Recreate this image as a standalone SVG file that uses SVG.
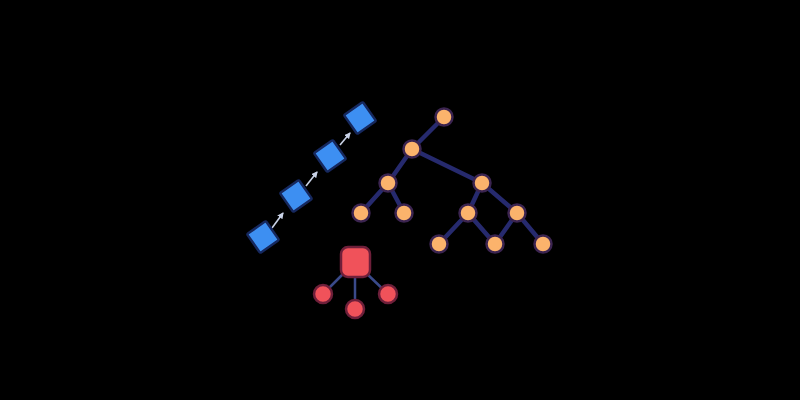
<svg xmlns="http://www.w3.org/2000/svg" width="800" height="400" viewBox="0 0 800 400">
<defs>
<style>
.edge{stroke:#262a6e;stroke-width:4.5;stroke-linecap:round;fill:none}
.redge{stroke:#3a4a8a;stroke-width:2.5;fill:none}
.link{stroke:#c9d2e6;stroke-width:1.6;fill:none}
.sq{fill:#3d8ff2;stroke:#16285e;stroke-width:2.5}
.or{fill:#fbb36c;stroke:#3b2450;stroke-width:2.5}
.rd{fill:#f0525a;stroke:#6e1f3a;stroke-width:2.5}
</style>
<marker id="ah" viewBox="0 0 6 6" refX="5" refY="3" markerWidth="4" markerHeight="4" orient="auto"><path d="M0,0 L6,3 L0,6 z" fill="#c9d2e6"/></marker>
</defs>
<rect width="800" height="400" fill="#000"/>
<g id="connectors">
<line class="link" x1="272" y1="228" x2="283" y2="213" marker-end="url(#ah)"/>
<line class="link" x1="306" y1="186" x2="317" y2="172" marker-end="url(#ah)"/>
<line class="link" x1="340" y1="145" x2="350" y2="133" marker-end="url(#ah)"/>
<line class="edge" x1="444" y1="117" x2="412" y2="149"/>
<line class="edge" x1="412" y1="149" x2="388" y2="183"/>
<line class="edge" x1="412" y1="149" x2="482" y2="183"/>
<line class="edge" x1="388" y1="183" x2="361" y2="213"/>
<line class="edge" x1="388" y1="183" x2="404" y2="213"/>
<line class="edge" x1="482" y1="183" x2="468" y2="213"/>
<line class="edge" x1="482" y1="183" x2="517" y2="213"/>
<line class="edge" x1="468" y1="213" x2="439" y2="244"/>
<line class="edge" x1="468" y1="213" x2="495" y2="244"/>
<line class="edge" x1="517" y1="213" x2="495" y2="244"/>
<line class="edge" x1="517" y1="213" x2="543" y2="244"/>
<line class="redge" x1="345" y1="272" x2="323" y2="294"/>
<line class="redge" x1="355" y1="276" x2="355" y2="309"/>
<line class="redge" x1="365" y1="272" x2="388" y2="294"/>
</g>
<g id="b1"><rect class="sq" x="-11.5" y="-11.5" width="23" height="23" rx="1.5" transform="translate(360,118) rotate(-35)"/></g>
<g id="b2"><rect class="sq" x="-11.5" y="-11.5" width="23" height="23" rx="1.5" transform="translate(330,156) rotate(-35)"/></g>
<g id="b3"><rect class="sq" x="-11.5" y="-11.5" width="23" height="23" rx="1.5" transform="translate(296,196) rotate(-35)"/></g>
<g id="b4"><rect class="sq" x="-11.5" y="-11.5" width="23" height="23" rx="1.5" transform="translate(263,237) rotate(-35)"/></g>
<g id="o1"><circle class="or" cx="444" cy="117" r="8.5"/></g>
<g id="o2"><circle class="or" cx="412" cy="149" r="8.5"/></g>
<g id="o3"><circle class="or" cx="388" cy="183" r="8.5"/></g>
<g id="o4"><circle class="or" cx="482" cy="183" r="8.5"/></g>
<g id="o5"><circle class="or" cx="361" cy="213" r="8.5"/></g>
<g id="o6"><circle class="or" cx="404" cy="213" r="8.5"/></g>
<g id="o7"><circle class="or" cx="468" cy="213" r="8.5"/></g>
<g id="o8"><circle class="or" cx="517" cy="213" r="8.5"/></g>
<g id="o9"><circle class="or" cx="439" cy="244" r="8.5"/></g>
<g id="o10"><circle class="or" cx="495" cy="244" r="8.5"/></g>
<g id="o11"><circle class="or" cx="543" cy="244" r="8.5"/></g>
<g id="r0"><rect class="rd" x="341" y="247" width="29" height="30" rx="7"/></g>
<g id="r1"><circle class="rd" cx="323" cy="294" r="9"/></g>
<g id="r2"><circle class="rd" cx="355" cy="309" r="9"/></g>
<g id="r3"><circle class="rd" cx="388" cy="294" r="9"/></g>
</svg>
